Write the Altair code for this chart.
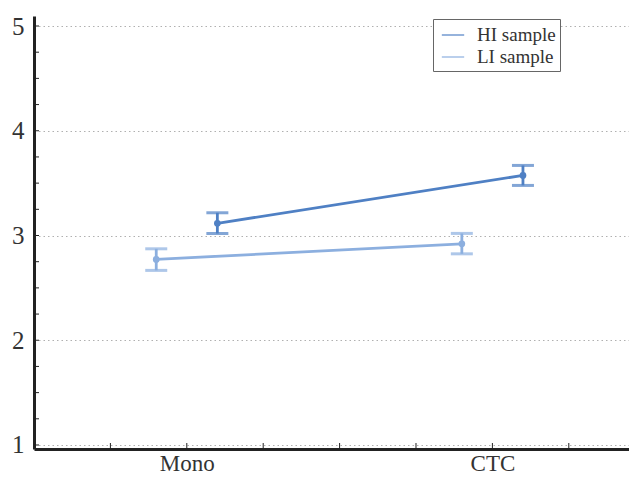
import altair as alt
import pandas as pd

categories = ["Mono", "CTC"]
series = ["HI sample", "LI sample"]
offsets = [0.1, -0.1]
means = [[3.116, 3.574], [2.772, 2.921]]
lows = [[3.019, 3.478], [2.667, 2.825]]
highs = [[3.217, 3.669], [2.873, 3.020]]
colors = ["#4f80c4", "#8cafdf"]

y_major = [1, 2, 3, 4, 5]
y_minor = [1 + 0.25 * i for i in range(17)]
x_minor = [0.75, 1.0, 1.25, 1.5, 1.75, 2.0, 2.25]

rows = []
for s, name in enumerate(series):
    for c, cat in enumerate(categories):
        rows.append({"series": name, "cat": cat, "x": c + 1 + offsets[s],
                     "mean": means[s][c], "lo": lows[s][c], "hi": highs[s][c]})
df = pd.DataFrame(rows)

W, H = 595, 433
FONT = "Liberation Serif"

xs = alt.Scale(domain=[0.5, 2.447], nice=False, zero=False)
ys = alt.Scale(domain=[0.9618, 5.0955], nice=False, zero=False)
cs = alt.Scale(domain=series, range=colors)

base = alt.Chart(df)

xaxis = alt.Axis(values=[1, 2], labelExpr="datum.value == 1 ? 'Mono' : 'CTC'",
                 title=None, grid=False, tickSize=0, domainColor="#222", domainWidth=3,
                 labelFont=FONT, labelFontSize=23, labelColor="#333", labelPadding=21,
                 labelBaseline="alphabetic")
yaxis = alt.Axis(values=y_major, format="d", title=None, grid=True, gridDash=[1.5, 3],
                 gridColor="#b0b0b0", gridWidth=1, tickSize=0, domainColor="#222",
                 domainWidth=3, labelFont=FONT, labelFontSize=25, labelColor="#333",
                 labelPadding=10)

lines = base.mark_line(strokeWidth=2.8).encode(
    x=alt.X("x:Q", scale=xs, axis=xaxis),
    y=alt.Y("mean:Q", scale=ys, axis=yaxis),
    color=alt.Color("series:N", scale=cs, legend=alt.Legend(
        title=None, orient="none", legendX=399, legendY=3, symbolType="stroke",
        symbolSize=500, symbolStrokeWidth=1.2, symbolOffset=4, labelFont=FONT,
        labelFontSize=19, labelColor="#333", labelOffset=12, padding=4, rowPadding=0,
        strokeColor="#666", fillColor="white", cornerRadius=0)),
    detail="series:N",
)
rules = base.mark_rule(strokeWidth=2.8).encode(
    x="x:Q", y="lo:Q", y2="hi:Q",
    color=alt.Color("series:N", scale=cs, legend=None))
cap_lo = base.mark_tick(orient="horizontal", size=22, thickness=3).encode(
    x="x:Q", y="lo:Q", color=alt.Color("series:N", scale=cs, legend=None))
cap_hi = base.mark_tick(orient="horizontal", size=22, thickness=3).encode(
    x="x:Q", y="hi:Q", color=alt.Color("series:N", scale=cs, legend=None))
pts = base.mark_circle(size=45, opacity=1).encode(
    x="x:Q", y="mean:Q", color=alt.Color("series:N", scale=cs, legend=None))

xt = alt.Chart(pd.DataFrame({"t": x_minor})).mark_rule(color="#222", strokeWidth=1).encode(
    x=alt.X("t:Q", scale=xs), y=alt.value(H), y2=alt.value(H - 6))
yt = alt.Chart(pd.DataFrame({"t": y_minor})).mark_rule(color="#222", strokeWidth=1).encode(
    y=alt.Y("t:Q", scale=ys), x=alt.value(0), x2=alt.value(5))

chart = alt.layer(lines, rules, cap_lo, cap_hi, pts, xt, yt).properties(
    width=W, height=H,
    autosize=alt.AutoSizeParams(type="none"),
    padding={"left": 26, "top": 8, "right": 0, "bottom": 27},
).configure_view(stroke=None)

chart.save("out.html", embed_options={"renderer": "svg", "actions": False})
